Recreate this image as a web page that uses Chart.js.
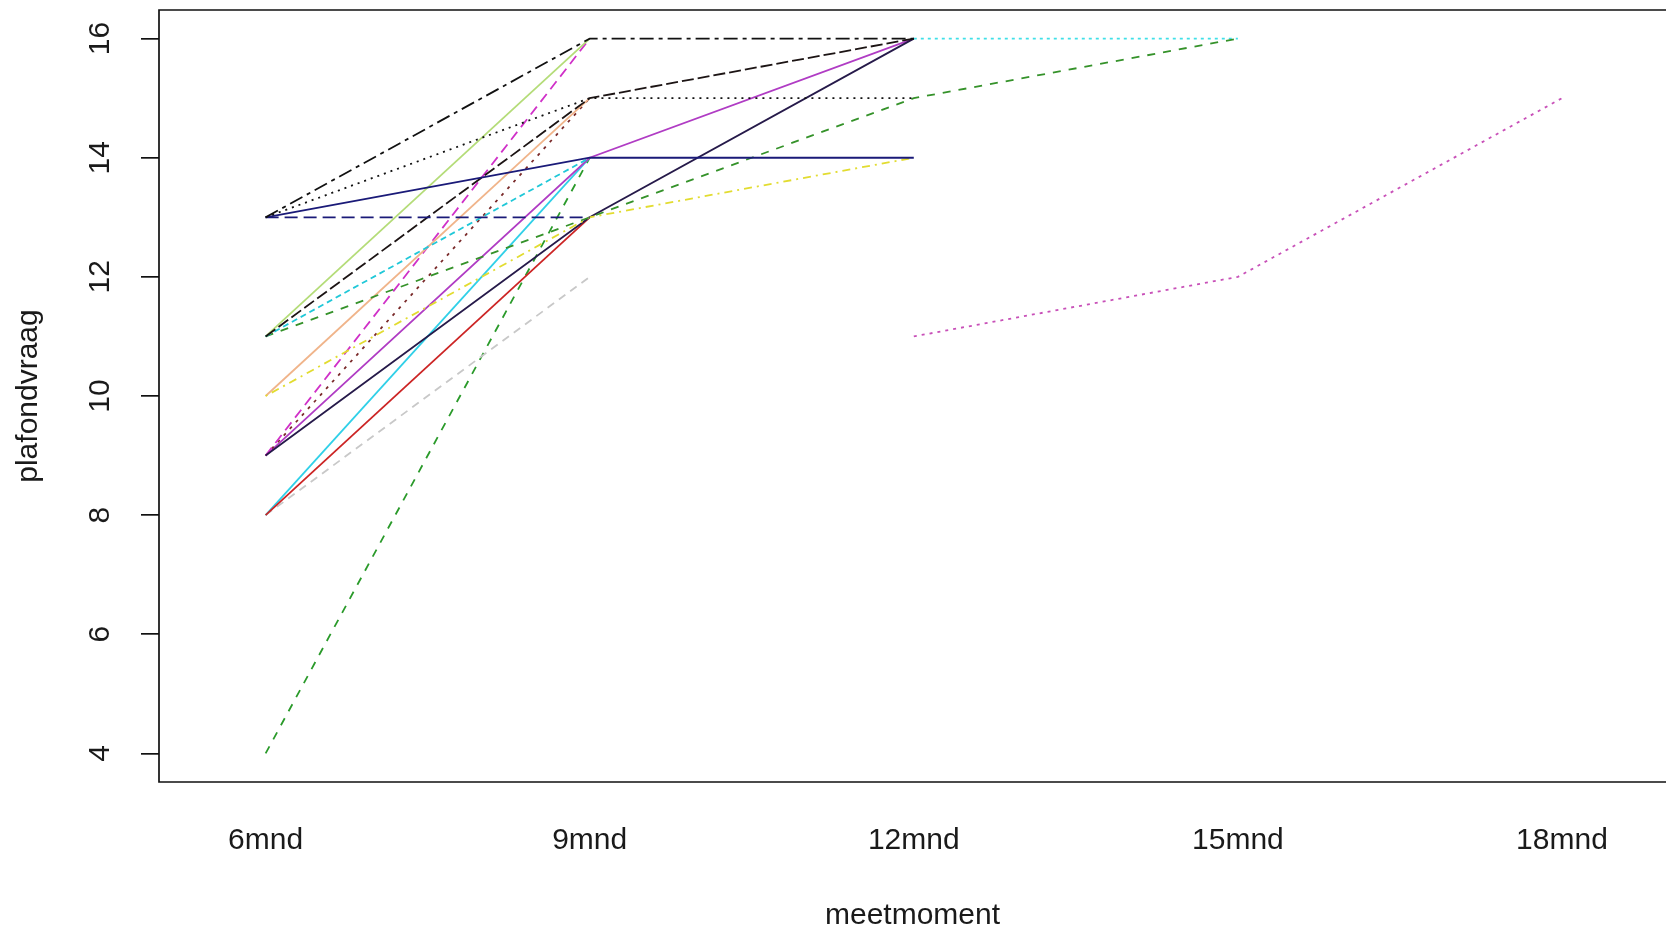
<!DOCTYPE html>
<html>
<head>
<meta charset="utf-8">
<script src="https://cdn.jsdelivr.net/npm/chart.js@4"></script>
<style>
  html, body { margin: 0; padding: 0; background: #fff; }
  #wrap { width: 1666px; height: 933px; }
</style>
</head>
<body>
<div id="wrap"><canvas id="chart" width="1666" height="933"></canvas></div>
<script>
// meetmomenten (x) and y tick values
const months = ['6mnd', '9mnd', '12mnd', '15mnd', '18mnd'];
const yTicks = [4, 6, 8, 10, 12, 14, 16];

// plafondvraag per child, one value per meetmoment (null = not measured)
const s01 = [13, 16, 16, null, null];
const s02 = [13, 15, 15, null, null];
const s03 = [13, 14, 14, null, null];
const s04 = [13, 13, null, null, null];
const s05 = [11, 15, 16, null, null];
const s06 = [11, 14, null, null, null];
const s07 = [11, 13, 15, 16, null];
const s08 = [10, 13, 14, null, null];
const s09 = [11, 16, null, null, null];
const s10 = [10, 15, null, null, null];
const s11 = [9, 13, 16, null, null];
const s12 = [9, 16, null, null, null];
const s13 = [9, 15, null, null, null];
const s14 = [9, 14, 16, null, null];
const s15 = [8, 13, null, null, null];
const s16 = [8, 14, null, null, null];
const s17 = [8, 12, null, null, null];
const s18 = [4, 14, null, null, null];
const s19 = [null, null, 16, 16, null];
const s20 = [null, null, 11, 12, 15];

// line look per child: [values, colour, dash]
const series = [
  [s01, '#111111', [14, 5, 4, 5]],
  [s02, '#111111', [2, 5]],
  [s03, '#1a1a78', []],
  [s04, '#1a1a78', [13, 6]],
  [s05, '#1c1414', [12, 4]],
  [s06, '#20c8d8', [6, 4]],
  [s07, '#35922a', [8, 8]],
  [s08, '#e2dc30', [2, 5, 8, 5]],
  [s09, '#b4dc78', []],
  [s10, '#f0b48a', []],
  [s11, '#261a4a', []],
  [s12, '#d030c8', [10, 6]],
  [s13, '#7a2a2a', [3, 6]],
  [s14, '#b03cc4', []],
  [s15, '#cc2424', []],
  [s16, '#30d0e8', []],
  [s17, '#c8c8c8', [8, 6]],
  [s18, '#2a9a2a', [8, 8]],
  [s19, '#40e0e8', [3, 4]],
  [s20, '#c850b8', [3, 5]],
];

const FONT = '"Liberation Sans", Arial, sans-serif';

const datasets = series.map(([vals, color, dash]) => ({
  data: vals.map((v, i) => ({ x: i + 1, y: v })),
  borderColor: color,
  borderDash: dash,
  borderWidth: 1.8,
  pointRadius: 0,
  tension: 0,
  spanGaps: false,
}));

// frame (left, top, bottom) and all axis texts
const frameAndText = {
  id: 'frameAndText',
  afterDraw(chart) {
    const { ctx, chartArea: a, scales } = chart;
    ctx.save();
    ctx.strokeStyle = '#111';
    ctx.lineWidth = 1.7;
    ctx.beginPath();
    ctx.moveTo(chart.width + 2, a.top);
    ctx.lineTo(a.left, a.top);
    ctx.lineTo(a.left, a.bottom);
    ctx.lineTo(chart.width + 2, a.bottom);
    ctx.stroke();

    ctx.fillStyle = '#1a1a1a';
    ctx.font = '30px ' + FONT;
    ctx.textAlign = 'center';
    ctx.textBaseline = 'middle';

    months.forEach((m, i) => {
      ctx.fillText(m, scales.x.getPixelForValue(i + 1), 841);
    });
    ctx.fillText('meetmoment', (a.left + a.right) / 2, 916);

    yTicks.forEach(v => {
      ctx.save();
      ctx.translate(101, scales.y.getPixelForValue(v));
      ctx.rotate(-Math.PI / 2);
      ctx.fillText(String(v), 0, 0);
      ctx.restore();
    });

    ctx.save();
    ctx.translate(29, (a.top + a.bottom) / 2);
    ctx.rotate(-Math.PI / 2);
    ctx.fillText('plafondvraag', 0, 0);
    ctx.restore();
    ctx.restore();
  }
};

new Chart(document.getElementById('chart').getContext('2d'), {
  type: 'line',
  data: { datasets },
  options: {
    responsive: false,
    animation: false,
    layout: { padding: { top: 10, right: 0, bottom: 0, left: 0 } },
    plugins: { legend: { display: false }, tooltip: { enabled: false } },
    scales: {
      x: {
        type: 'linear',
        min: 0.671,
        max: 5.321,
        afterFit: s => { s.height = 151; },
        afterBuildTicks: axis => { axis.ticks = months.map((m, i) => ({ value: i + 1 })); },
        ticks: { display: false },
        grid: { display: false },
        border: { display: false },
      },
      y: {
        type: 'linear',
        min: 3.52,
        max: 16.48,
        afterFit: s => { s.width = 159; },
        afterBuildTicks: axis => { axis.ticks = yTicks.map(v => ({ value: v })); },
        ticks: { display: false },
        grid: { drawOnChartArea: false, tickLength: 18, color: '#111', lineWidth: 1.7 },
        border: { display: false },
      },
    },
  },
  plugins: [frameAndText],
});
</script>
</body>
</html>
